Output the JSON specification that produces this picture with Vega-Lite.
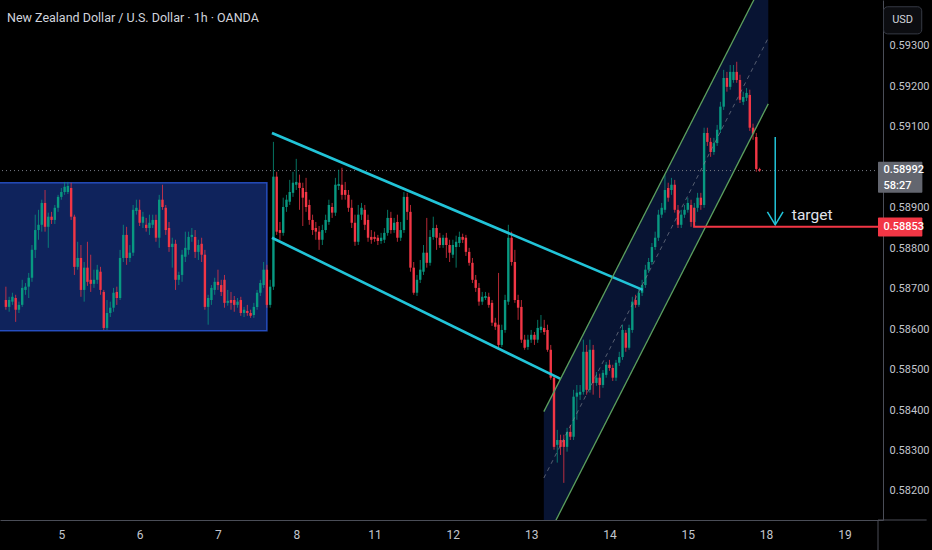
{
"$schema":"https://vega.github.io/schema/vega-lite/v6.json",
"width":883,"height":520,"autosize":"none",
"padding":{"left":0,"top":0,"right":49,"bottom":30},
"background":"#000000",
"title":{"text":"New Zealand Dollar / U.S. Dollar · 1h · OANDA","anchor":"start","frame":"group","offset":-30,"dx":7,"baseline":"middle","color":"#d1d4dc","fontSize":12.5,"fontWeight":"normal","font":"Roboto"},
"config":{"view":{"stroke":null},"axis":{"grid":false,"ticks":false,"domainColor":"#4a4d57","labelColor":"#c3c6ce","labelFont":"Roboto","labelFontSize":11}},
"datasets":{
"candles":[
{"h":-17,"o":0.58672,"c":0.58655,"hi":0.58705,"lo":0.58648},
{"h":-16,"o":0.58655,"c":0.58672,"hi":0.58680,"lo":0.58643},
{"h":-15,"o":0.58668,"c":0.58680,"hi":0.58690,"lo":0.58660},
{"h":-14,"o":0.58677,"c":0.58648,"hi":0.58685,"lo":0.58618},
{"h":-13,"o":0.58648,"c":0.58660,"hi":0.58668,"lo":0.58640},
{"h":-12,"o":0.58660,"c":0.58702,"hi":0.58722,"lo":0.58655},
{"h":-11,"o":0.58697,"c":0.58705,"hi":0.58714,"lo":0.58685},
{"h":-10,"o":0.58705,"c":0.58727,"hi":0.58739,"lo":0.58677},
{"h":-9,"o":0.58727,"c":0.58796,"hi":0.58808,"lo":0.58717},
{"h":-8,"o":0.58796,"c":0.58845,"hi":0.58883,"lo":0.58776},
{"h":-7,"o":0.58845,"c":0.58858,"hi":0.58895,"lo":0.58821},
{"h":-6,"o":0.58858,"c":0.58912,"hi":0.58920,"lo":0.58841},
{"h":-5,"o":0.58912,"c":0.58853,"hi":0.58944,"lo":0.58841},
{"h":-4,"o":0.58853,"c":0.58878,"hi":0.58888,"lo":0.58801},
{"h":-3,"o":0.58878,"c":0.58870,"hi":0.58890,"lo":0.58860},
{"h":-2,"o":0.58870,"c":0.58900,"hi":0.58907,"lo":0.58860},
{"h":-1,"o":0.58900,"c":0.58927,"hi":0.58932,"lo":0.58890},
{"h":0,"o":0.58927,"c":0.58939,"hi":0.58949,"lo":0.58920},
{"h":1,"o":0.58939,"c":0.58952,"hi":0.58964,"lo":0.58932},
{"h":2,"o":0.58939,"c":0.58954,"hi":0.58964,"lo":0.58934},
{"h":3,"o":0.58949,"c":0.58878,"hi":0.58962,"lo":0.58870},
{"h":4,"o":0.58878,"c":0.58754,"hi":0.58883,"lo":0.58734},
{"h":5,"o":0.58754,"c":0.58776,"hi":0.58816,"lo":0.58747},
{"h":6,"o":0.58776,"c":0.58697,"hi":0.58808,"lo":0.58680},
{"h":7,"o":0.58697,"c":0.58752,"hi":0.58766,"lo":0.58668},
{"h":8,"o":0.58752,"c":0.58717,"hi":0.58816,"lo":0.58707},
{"h":9,"o":0.58722,"c":0.58712,"hi":0.58784,"lo":0.58692},
{"h":10,"o":0.58712,"c":0.58722,"hi":0.58747,"lo":0.58702},
{"h":11,"o":0.58722,"c":0.58747,"hi":0.58759,"lo":0.58712},
{"h":12,"o":0.58742,"c":0.58697,"hi":0.58754,"lo":0.58685},
{"h":13,"o":0.58692,"c":0.58603,"hi":0.58697,"lo":0.58598},
{"h":14,"o":0.58603,"c":0.58640,"hi":0.58672,"lo":0.58598},
{"h":15,"o":0.58640,"c":0.58653,"hi":0.58668,"lo":0.58630},
{"h":16,"o":0.58653,"c":0.58690,"hi":0.58702,"lo":0.58643},
{"h":17,"o":0.58692,"c":0.58677,"hi":0.58705,"lo":0.58660},
{"h":18,"o":0.58677,"c":0.58776,"hi":0.58796,"lo":0.58672},
{"h":19,"o":0.58776,"c":0.58833,"hi":0.58858,"lo":0.58766},
{"h":20,"o":0.58833,"c":0.58776,"hi":0.58853,"lo":0.58759},
{"h":21,"o":0.58776,"c":0.58789,"hi":0.58808,"lo":0.58766},
{"h":22,"o":0.58789,"c":0.58895,"hi":0.58907,"lo":0.58781},
{"h":23,"o":0.58892,"c":0.58900,"hi":0.58920,"lo":0.58883},
{"h":24,"o":0.58895,"c":0.58863,"hi":0.58920,"lo":0.58855},
{"h":25,"o":0.58863,"c":0.58878,"hi":0.58890,"lo":0.58850},
{"h":26,"o":0.58858,"c":0.58850,"hi":0.58875,"lo":0.58841},
{"h":27,"o":0.58850,"c":0.58863,"hi":0.58883,"lo":0.58833},
{"h":28,"o":0.58858,"c":0.58870,"hi":0.58883,"lo":0.58850},
{"h":29,"o":0.58870,"c":0.58826,"hi":0.58883,"lo":0.58816},
{"h":30,"o":0.58826,"c":0.58920,"hi":0.58932,"lo":0.58801},
{"h":31,"o":0.58920,"c":0.58902,"hi":0.58957,"lo":0.58895},
{"h":32,"o":0.58900,"c":0.58845,"hi":0.58907,"lo":0.58833},
{"h":33,"o":0.58850,"c":0.58803,"hi":0.58865,"lo":0.58791},
{"h":34,"o":0.58803,"c":0.58811,"hi":0.58826,"lo":0.58752},
{"h":35,"o":0.58811,"c":0.58722,"hi":0.58821,"lo":0.58697},
{"h":36,"o":0.58722,"c":0.58734,"hi":0.58742,"lo":0.58709},
{"h":37,"o":0.58734,"c":0.58784,"hi":0.58796,"lo":0.58717},
{"h":38,"o":0.58779,"c":0.58801,"hi":0.58841,"lo":0.58766},
{"h":39,"o":0.58796,"c":0.58828,"hi":0.58841,"lo":0.58784},
{"h":40,"o":0.58828,"c":0.58833,"hi":0.58850,"lo":0.58816},
{"h":41,"o":0.58828,"c":0.58791,"hi":0.58845,"lo":0.58776},
{"h":42,"o":0.58791,"c":0.58808,"hi":0.58821,"lo":0.58771},
{"h":43,"o":0.58811,"c":0.58784,"hi":0.58826,"lo":0.58766},
{"h":44,"o":0.58784,"c":0.58655,"hi":0.58796,"lo":0.58648},
{"h":45,"o":0.58655,"c":0.58677,"hi":0.58685,"lo":0.58611},
{"h":46,"o":0.58672,"c":0.58702,"hi":0.58709,"lo":0.58660},
{"h":47,"o":0.58697,"c":0.58717,"hi":0.58727,"lo":0.58685},
{"h":48,"o":0.58717,"c":0.58709,"hi":0.58747,"lo":0.58697},
{"h":49,"o":0.58709,"c":0.58692,"hi":0.58722,"lo":0.58682},
{"h":50,"o":0.58722,"c":0.58665,"hi":0.58734,"lo":0.58653},
{"h":51,"o":0.58665,"c":0.58670,"hi":0.58697,"lo":0.58658},
{"h":52,"o":0.58672,"c":0.58665,"hi":0.58692,"lo":0.58648},
{"h":53,"o":0.58672,"c":0.58660,"hi":0.58682,"lo":0.58643},
{"h":54,"o":0.58660,"c":0.58668,"hi":0.58677,"lo":0.58653},
{"h":55,"o":0.58672,"c":0.58640,"hi":0.58680,"lo":0.58633},
{"h":56,"o":0.58640,"c":0.58648,"hi":0.58655,"lo":0.58630},
{"h":57,"o":0.58645,"c":0.58640,"hi":0.58660,"lo":0.58633},
{"h":58,"o":0.58640,"c":0.58633,"hi":0.58648,"lo":0.58628},
{"h":59,"o":0.58635,"c":0.58655,"hi":0.58665,"lo":0.58628},
{"h":60,"o":0.58655,"c":0.58690,"hi":0.58697,"lo":0.58648},
{"h":61,"o":0.58690,"c":0.58714,"hi":0.58722,"lo":0.58682},
{"h":62,"o":0.58709,"c":0.58747,"hi":0.58766,"lo":0.58702},
{"h":63,"o":0.58747,"c":0.58660,"hi":0.58759,"lo":0.58653},
{"h":64,"o":0.58660,"c":0.58705,"hi":0.58722,"lo":0.58653},
{"h":65,"o":0.58705,"c":0.58977,"hi":0.59063,"lo":0.58697},
{"h":66,"o":0.58977,"c":0.58841,"hi":0.58989,"lo":0.58833},
{"h":67,"o":0.58845,"c":0.58838,"hi":0.58865,"lo":0.58821},
{"h":68,"o":0.58838,"c":0.58902,"hi":0.58925,"lo":0.58831},
{"h":69,"o":0.58902,"c":0.58920,"hi":0.58932,"lo":0.58890},
{"h":70,"o":0.58915,"c":0.58939,"hi":0.58969,"lo":0.58907},
{"h":71,"o":0.58937,"c":0.58962,"hi":0.58989,"lo":0.58927},
{"h":72,"o":0.58957,"c":0.58964,"hi":0.59021,"lo":0.58944},
{"h":73,"o":0.58962,"c":0.58949,"hi":0.58982,"lo":0.58895},
{"h":74,"o":0.58949,"c":0.58925,"hi":0.58962,"lo":0.58855},
{"h":75,"o":0.58939,"c":0.58902,"hi":0.58974,"lo":0.58890},
{"h":76,"o":0.58907,"c":0.58870,"hi":0.58920,"lo":0.58858},
{"h":77,"o":0.58870,"c":0.58845,"hi":0.58883,"lo":0.58833},
{"h":78,"o":0.58850,"c":0.58841,"hi":0.58865,"lo":0.58821},
{"h":79,"o":0.58841,"c":0.58821,"hi":0.58855,"lo":0.58796},
{"h":80,"o":0.58821,"c":0.58845,"hi":0.58858,"lo":0.58808},
{"h":81,"o":0.58845,"c":0.58870,"hi":0.58883,"lo":0.58838},
{"h":82,"o":0.58865,"c":0.58907,"hi":0.58920,"lo":0.58858},
{"h":83,"o":0.58902,"c":0.58888,"hi":0.58912,"lo":0.58875},
{"h":84,"o":0.58888,"c":0.58957,"hi":0.58974,"lo":0.58880},
{"h":85,"o":0.58954,"c":0.58959,"hi":0.58994,"lo":0.58944},
{"h":86,"o":0.58957,"c":0.58932,"hi":0.58999,"lo":0.58920},
{"h":87,"o":0.58944,"c":0.58932,"hi":0.58964,"lo":0.58920},
{"h":88,"o":0.58932,"c":0.58900,"hi":0.58944,"lo":0.58890},
{"h":89,"o":0.58900,"c":0.58863,"hi":0.58920,"lo":0.58850},
{"h":90,"o":0.58863,"c":0.58816,"hi":0.58883,"lo":0.58806},
{"h":91,"o":0.58816,"c":0.58883,"hi":0.58907,"lo":0.58808},
{"h":92,"o":0.58883,"c":0.58900,"hi":0.58912,"lo":0.58870},
{"h":93,"o":0.58895,"c":0.58858,"hi":0.58907,"lo":0.58845},
{"h":94,"o":0.58870,"c":0.58826,"hi":0.58883,"lo":0.58816},
{"h":95,"o":0.58828,"c":0.58821,"hi":0.58845,"lo":0.58811},
{"h":96,"o":0.58828,"c":0.58823,"hi":0.58841,"lo":0.58816},
{"h":97,"o":0.58826,"c":0.58818,"hi":0.58833,"lo":0.58808},
{"h":98,"o":0.58818,"c":0.58826,"hi":0.58838,"lo":0.58811},
{"h":99,"o":0.58821,"c":0.58838,"hi":0.58850,"lo":0.58813},
{"h":100,"o":0.58838,"c":0.58875,"hi":0.58895,"lo":0.58831},
{"h":101,"o":0.58875,"c":0.58845,"hi":0.58890,"lo":0.58836},
{"h":102,"o":0.58845,"c":0.58863,"hi":0.58875,"lo":0.58838},
{"h":103,"o":0.58865,"c":0.58826,"hi":0.58883,"lo":0.58816},
{"h":104,"o":0.58826,"c":0.58845,"hi":0.58865,"lo":0.58818},
{"h":105,"o":0.58845,"c":0.58927,"hi":0.58939,"lo":0.58838},
{"h":106,"o":0.58927,"c":0.58890,"hi":0.58937,"lo":0.58870},
{"h":107,"o":0.58890,"c":0.58752,"hi":0.58907,"lo":0.58742},
{"h":108,"o":0.58752,"c":0.58690,"hi":0.58766,"lo":0.58685},
{"h":109,"o":0.58690,"c":0.58722,"hi":0.58734,"lo":0.58682},
{"h":110,"o":0.58722,"c":0.58747,"hi":0.58771,"lo":0.58714},
{"h":111,"o":0.58742,"c":0.58789,"hi":0.58808,"lo":0.58734},
{"h":112,"o":0.58789,"c":0.58764,"hi":0.58875,"lo":0.58752},
{"h":113,"o":0.58764,"c":0.58828,"hi":0.58845,"lo":0.58757},
{"h":114,"o":0.58828,"c":0.58850,"hi":0.58878,"lo":0.58821},
{"h":115,"o":0.58850,"c":0.58826,"hi":0.58858,"lo":0.58796},
{"h":116,"o":0.58826,"c":0.58808,"hi":0.58838,"lo":0.58801},
{"h":117,"o":0.58808,"c":0.58826,"hi":0.58833,"lo":0.58801},
{"h":118,"o":0.58826,"c":0.58808,"hi":0.58838,"lo":0.58776},
{"h":119,"o":0.58808,"c":0.58789,"hi":0.58821,"lo":0.58766},
{"h":120,"o":0.58784,"c":0.58808,"hi":0.58821,"lo":0.58776},
{"h":121,"o":0.58803,"c":0.58816,"hi":0.58831,"lo":0.58752},
{"h":122,"o":0.58813,"c":0.58828,"hi":0.58841,"lo":0.58803},
{"h":123,"o":0.58828,"c":0.58821,"hi":0.58836,"lo":0.58813},
{"h":124,"o":0.58826,"c":0.58791,"hi":0.58833,"lo":0.58781},
{"h":125,"o":0.58791,"c":0.58764,"hi":0.58801,"lo":0.58757},
{"h":126,"o":0.58764,"c":0.58722,"hi":0.58776,"lo":0.58714},
{"h":127,"o":0.58722,"c":0.58702,"hi":0.58734,"lo":0.58692},
{"h":128,"o":0.58702,"c":0.58668,"hi":0.58714,"lo":0.58658},
{"h":129,"o":0.58668,"c":0.58680,"hi":0.58692,"lo":0.58660},
{"h":130,"o":0.58677,"c":0.58682,"hi":0.58692,"lo":0.58672},
{"h":131,"o":0.58680,"c":0.58660,"hi":0.58690,"lo":0.58653},
{"h":132,"o":0.58665,"c":0.58616,"hi":0.58672,"lo":0.58608},
{"h":133,"o":0.58616,"c":0.58606,"hi":0.58628,"lo":0.58598},
{"h":134,"o":0.58611,"c":0.58561,"hi":0.58739,"lo":0.58554},
{"h":135,"o":0.58561,"c":0.58598,"hi":0.58611,"lo":0.58556},
{"h":136,"o":0.58598,"c":0.58672,"hi":0.58685,"lo":0.58591},
{"h":137,"o":0.58668,"c":0.58826,"hi":0.58858,"lo":0.58660},
{"h":138,"o":0.58826,"c":0.58766,"hi":0.58841,"lo":0.58757},
{"h":139,"o":0.58766,"c":0.58672,"hi":0.58796,"lo":0.58665},
{"h":140,"o":0.58672,"c":0.58653,"hi":0.58685,"lo":0.58623},
{"h":141,"o":0.58655,"c":0.58574,"hi":0.58672,"lo":0.58566},
{"h":142,"o":0.58574,"c":0.58554,"hi":0.58586,"lo":0.58549},
{"h":143,"o":0.58556,"c":0.58574,"hi":0.58586,"lo":0.58549},
{"h":144,"o":0.58574,"c":0.58586,"hi":0.58598,"lo":0.58566},
{"h":145,"o":0.58586,"c":0.58574,"hi":0.58593,"lo":0.58561},
{"h":146,"o":0.58574,"c":0.58603,"hi":0.58623,"lo":0.58566},
{"h":147,"o":0.58598,"c":0.58606,"hi":0.58635,"lo":0.58591},
{"h":148,"o":0.58603,"c":0.58593,"hi":0.58623,"lo":0.58586},
{"h":149,"o":0.58598,"c":0.58549,"hi":0.58611,"lo":0.58544},
{"h":150,"o":0.58549,"c":0.58480,"hi":0.58561,"lo":0.58475},
{"h":151,"o":0.58480,"c":0.58309,"hi":0.58487,"lo":0.58302},
{"h":152,"o":0.58314,"c":0.58326,"hi":0.58351,"lo":0.58270},
{"h":153,"o":0.58326,"c":0.58309,"hi":0.58339,"lo":0.58289},
{"h":154,"o":0.58326,"c":0.58309,"hi":0.58339,"lo":0.58220},
{"h":155,"o":0.58309,"c":0.58346,"hi":0.58356,"lo":0.58297},
{"h":156,"o":0.58346,"c":0.58334,"hi":0.58363,"lo":0.58326},
{"h":157,"o":0.58334,"c":0.58433,"hi":0.58450,"lo":0.58326},
{"h":158,"o":0.58433,"c":0.58443,"hi":0.58462,"lo":0.58376},
{"h":159,"o":0.58438,"c":0.58445,"hi":0.58462,"lo":0.58425},
{"h":160,"o":0.58445,"c":0.58544,"hi":0.58574,"lo":0.58438},
{"h":161,"o":0.58544,"c":0.58450,"hi":0.58561,"lo":0.58438},
{"h":162,"o":0.58450,"c":0.58549,"hi":0.58574,"lo":0.58443},
{"h":163,"o":0.58549,"c":0.58467,"hi":0.58561,"lo":0.58438},
{"h":164,"o":0.58467,"c":0.58480,"hi":0.58494,"lo":0.58460},
{"h":165,"o":0.58480,"c":0.58462,"hi":0.58490,"lo":0.58430},
{"h":166,"o":0.58462,"c":0.58492,"hi":0.58499,"lo":0.58455},
{"h":167,"o":0.58487,"c":0.58512,"hi":0.58519,"lo":0.58480},
{"h":168,"o":0.58512,"c":0.58504,"hi":0.58524,"lo":0.58497},
{"h":169,"o":0.58504,"c":0.58480,"hi":0.58512,"lo":0.58472},
{"h":170,"o":0.58480,"c":0.58517,"hi":0.58524,"lo":0.58472},
{"h":171,"o":0.58517,"c":0.58531,"hi":0.58544,"lo":0.58509},
{"h":172,"o":0.58531,"c":0.58598,"hi":0.58611,"lo":0.58524},
{"h":173,"o":0.58591,"c":0.58554,"hi":0.58598,"lo":0.58544},
{"h":174,"o":0.58554,"c":0.58603,"hi":0.58611,"lo":0.58549},
{"h":175,"o":0.58598,"c":0.58668,"hi":0.58680,"lo":0.58591},
{"h":176,"o":0.58672,"c":0.58660,"hi":0.58685,"lo":0.58653},
{"h":177,"o":0.58660,"c":0.58690,"hi":0.58702,"lo":0.58655},
{"h":178,"o":0.58690,"c":0.58709,"hi":0.58722,"lo":0.58682},
{"h":179,"o":0.58709,"c":0.58747,"hi":0.58759,"lo":0.58702},
{"h":180,"o":0.58747,"c":0.58766,"hi":0.58776,"lo":0.58739},
{"h":181,"o":0.58766,"c":0.58803,"hi":0.58813,"lo":0.58759},
{"h":182,"o":0.58803,"c":0.58826,"hi":0.58841,"lo":0.58796},
{"h":183,"o":0.58826,"c":0.58883,"hi":0.58895,"lo":0.58818},
{"h":184,"o":0.58883,"c":0.58900,"hi":0.58912,"lo":0.58875},
{"h":185,"o":0.58895,"c":0.58944,"hi":0.58982,"lo":0.58888},
{"h":186,"o":0.58949,"c":0.58925,"hi":0.58962,"lo":0.58915},
{"h":187,"o":0.58944,"c":0.58957,"hi":0.58974,"lo":0.58932},
{"h":188,"o":0.58957,"c":0.58895,"hi":0.58969,"lo":0.58888},
{"h":189,"o":0.58895,"c":0.58858,"hi":0.58907,"lo":0.58850},
{"h":190,"o":0.58858,"c":0.58883,"hi":0.58895,"lo":0.58850},
{"h":191,"o":0.58883,"c":0.58895,"hi":0.58907,"lo":0.58875},
{"h":192,"o":0.58895,"c":0.58912,"hi":0.58925,"lo":0.58888},
{"h":193,"o":0.58907,"c":0.58865,"hi":0.58920,"lo":0.58853},
{"h":194,"o":0.58865,"c":0.58900,"hi":0.58912,"lo":0.58855},
{"h":195,"o":0.58900,"c":0.58925,"hi":0.58937,"lo":0.58890},
{"h":196,"o":0.58925,"c":0.58907,"hi":0.58937,"lo":0.58895},
{"h":197,"o":0.58907,"c":0.59085,"hi":0.59098,"lo":0.58900},
{"h":198,"o":0.59085,"c":0.59063,"hi":0.59098,"lo":0.59053},
{"h":199,"o":0.59063,"c":0.59038,"hi":0.59073,"lo":0.59026},
{"h":200,"o":0.59038,"c":0.59060,"hi":0.59073,"lo":0.59031},
{"h":201,"o":0.59060,"c":0.59093,"hi":0.59105,"lo":0.59053},
{"h":202,"o":0.59093,"c":0.59150,"hi":0.59162,"lo":0.59085},
{"h":203,"o":0.59150,"c":0.59221,"hi":0.59241,"lo":0.59142},
{"h":204,"o":0.59221,"c":0.59199,"hi":0.59236,"lo":0.59187},
{"h":205,"o":0.59199,"c":0.59236,"hi":0.59253,"lo":0.59192},
{"h":206,"o":0.59216,"c":0.59236,"hi":0.59253,"lo":0.59209},
{"h":207,"o":0.59236,"c":0.59216,"hi":0.59261,"lo":0.59209},
{"h":208,"o":0.59216,"c":0.59167,"hi":0.59229,"lo":0.59159},
{"h":209,"o":0.59162,"c":0.59174,"hi":0.59187,"lo":0.59154},
{"h":210,"o":0.59172,"c":0.59184,"hi":0.59196,"lo":0.59164},
{"h":211,"o":0.59179,"c":0.59098,"hi":0.59192,"lo":0.59090},
{"h":212,"o":0.59098,"c":0.59083,"hi":0.59108,"lo":0.59068},
{"h":213,"o":0.59075,"c":0.58996,"hi":0.59085,"lo":0.58989},
{"h":214,"o":0.58996,"c":0.58992,"hi":0.58999,"lo":0.58989}
],
"draw":[
{"g":"up1","k":0,"h":64.55,"p":0.59085},{"g":"up1","k":1,"h":178.2,"p":0.58697},
{"g":"lo1","k":0,"h":64.55,"p":0.58826},{"g":"lo1","k":1,"h":153.0,"p":0.58477},
{"g":"arrow","k":0,"h":218.8,"p":0.59075},{"g":"arrow","k":1,"h":218.8,"p":0.58858},
{"g":"head","k":0,"h":216.4,"p":0.58890},{"g":"head","k":1,"h":218.8,"p":0.58858},{"g":"head","k":2,"h":221.2,"p":0.58890},
{"g":"tgt","k":0,"h":193.94,"p":0.58900},{"g":"tgt","k":1,"h":193.94,"p":0.58853},{"g":"tgt","k":2,"h":252,"p":0.58853},
{"g":"chU","k":0,"h":147.88,"p":0.58396},{"g":"chU","k":1,"h":216.67,"p":0.59484},
{"g":"chL","k":0,"h":147.88,"p":0.58069},{"g":"chL","k":1,"h":216.67,"p":0.59157},
{"g":"chM","k":0,"h":147.88,"p":0.58232},{"g":"chM","k":1,"h":216.67,"p":0.59320},
{"g":"sep","k":0,"h":250.3,"p":0.5812818},{"g":"sep","k":1,"h":250.3,"p":0.58054},
{"g":"base","k":0,"h":250.3,"p":0.5812818},{"g":"base","k":1,"h":265.2,"p":0.5812818}
],
"chan":[{"h":147.88,"top":0.58396,"bot":0.58069},{"h":216.67,"top":0.59484,"bot":0.59157}],
"box":[{"h1":-20,"h2":63.0,"p1":0.58962,"p2":0.58596}],
"tags":[
{"kind":"usd","h1":252.0,"h2":263.7,"p1":0.59397,"p2":0.59330},
{"kind":"grey","h1":250.3,"h2":263.9,"p1":0.59014,"p2":0.58937},
{"kind":"red","h1":250.3,"h2":263.9,"p1":0.58876,"p2":0.58829}
],
"texts":[
{"kind":"grey1","h":252.0,"p":0.58994,"t":"0.58992"},
{"kind":"grey2","h":252.0,"p":0.58955,"t":"58:27"},
{"kind":"red","h":252.0,"p":0.58853,"t":"0.58853"},
{"kind":"usd","h":257.85,"p":0.59364,"t":"USD"},
{"kind":"target","h":223.9,"p":0.58882,"t":"target"}
],
"last":[{"p":0.58992}]
},
"layer":[
{"data":{"name":"chan"},"mark":{"type":"area","color":"#2962ff","opacity":0.2,"clip":true},
 "encoding":{"x":{"field":"h","type":"quantitative","scale":{"domain":[-17.27,250.3],"nice":false,"zero":false},
   "axis":{"values":[0,24,48,72,96,120,144,168,192,216,240],"labelExpr":"['5','6','7','8','11','12','13','14','15','18','19'][round(datum.value/24)]","labelPadding":9,"labelFontSize":12,"title":null}},
  "y":{"field":"top","type":"quantitative","scale":{"domain":[0.5812818,0.5941372],"nice":false,"zero":false},
   "axis":{"orient":"right","values":[0.582,0.583,0.584,0.585,0.586,0.587,0.588,0.589,0.591,0.592,0.593],"format":".5f","labelPadding":6,"title":null}},
  "y2":{"field":"bot"}}},
{"data":{"name":"box"},"mark":{"type":"rect","fill":"#2962ff","fillOpacity":0.36,"stroke":"#2f5fe8","strokeOpacity":0.75,"strokeWidth":1.5,"clip":true},
 "encoding":{"x":{"field":"h1","type":"quantitative","scale":{"domain":[-17.27,250.3],"nice":false,"zero":false}},"x2":{"field":"h2"},
  "y":{"field":"p1","type":"quantitative","scale":{"domain":[0.5812818,0.5941372],"nice":false,"zero":false}},"y2":{"field":"p2"}}},
{"data":{"name":"last"},"mark":{"type":"rule","color":"#787b86","strokeWidth":1,"strokeDash":[1,3]},
 "encoding":{"y":{"field":"p","type":"quantitative","scale":{"domain":[0.5812818,0.5941372],"nice":false,"zero":false}}}},
{"data":{"name":"candles"},"mark":{"type":"rule","strokeWidth":1,"opacity":0.75},
 "encoding":{"x":{"field":"h","type":"quantitative","scale":{"domain":[-17.27,250.3],"nice":false,"zero":false}},
  "y":{"field":"lo","type":"quantitative","scale":{"domain":[0.5812818,0.5941372],"nice":false,"zero":false}},"y2":{"field":"hi"},
  "color":{"condition":{"test":"datum.c >= datum.o","value":"#089981"},"value":"#f23645"}}},
{"data":{"name":"candles"},"mark":{"type":"bar","size":2.4},
 "encoding":{"x":{"field":"h","type":"quantitative","scale":{"domain":[-17.27,250.3],"nice":false,"zero":false}},
  "y":{"field":"o","type":"quantitative","scale":{"domain":[0.5812818,0.5941372],"nice":false,"zero":false}},"y2":{"field":"c"},
  "color":{"condition":{"test":"datum.c >= datum.o","value":"#089981"},"value":"#f23645"}}},
{"data":{"name":"draw"},"transform":[{"filter":"datum.g == 'up1' || datum.g == 'lo1'"}],"mark":{"type":"line","color":"#22c4d8","strokeWidth":2.6,"clip":true},
 "encoding":{"x":{"field":"h","type":"quantitative","scale":{"domain":[-17.27,250.3],"nice":false,"zero":false}},
  "y":{"field":"p","type":"quantitative","scale":{"domain":[0.5812818,0.5941372],"nice":false,"zero":false}},"detail":{"field":"g"},"order":{"field":"k"}}},
{"data":{"name":"draw"},"transform":[{"filter":"datum.g == 'chU' || datum.g == 'chL'"}],"mark":{"type":"line","color":"#5b9f5e","strokeWidth":1.3,"clip":true},
 "encoding":{"x":{"field":"h","type":"quantitative","scale":{"domain":[-17.27,250.3],"nice":false,"zero":false}},
  "y":{"field":"p","type":"quantitative","scale":{"domain":[0.5812818,0.5941372],"nice":false,"zero":false}},"detail":{"field":"g"},"order":{"field":"k"}}},
{"data":{"name":"draw"},"transform":[{"filter":"datum.g == 'chM'"}],"mark":{"type":"line","color":"#8a8f9a","opacity":0.6,"strokeWidth":1,"strokeDash":[4,4],"clip":true},
 "encoding":{"x":{"field":"h","type":"quantitative","scale":{"domain":[-17.27,250.3],"nice":false,"zero":false}},
  "y":{"field":"p","type":"quantitative","scale":{"domain":[0.5812818,0.5941372],"nice":false,"zero":false}},"order":{"field":"k"}}},
{"data":{"name":"draw"},"transform":[{"filter":"datum.g == 'arrow' || datum.g == 'head'"}],"mark":{"type":"line","color":"#22c4d8","strokeWidth":1.5,"clip":true},
 "encoding":{"x":{"field":"h","type":"quantitative","scale":{"domain":[-17.27,250.3],"nice":false,"zero":false}},
  "y":{"field":"p","type":"quantitative","scale":{"domain":[0.5812818,0.5941372],"nice":false,"zero":false}},"detail":{"field":"g"},"order":{"field":"k"}}},
{"data":{"name":"draw"},"transform":[{"filter":"datum.g == 'tgt'"}],"mark":{"type":"line","color":"#f23645","strokeWidth":2,"clip":true},
 "encoding":{"x":{"field":"h","type":"quantitative","scale":{"domain":[-17.27,250.3],"nice":false,"zero":false}},
  "y":{"field":"p","type":"quantitative","scale":{"domain":[0.5812818,0.5941372],"nice":false,"zero":false}},"order":{"field":"k"}}},
{"data":{"name":"draw"},"transform":[{"filter":"datum.g == 'sep' || datum.g == 'base'"}],"mark":{"type":"line","color":"#4a4d57","strokeWidth":1},
 "encoding":{"x":{"field":"h","type":"quantitative","scale":{"domain":[-17.27,250.3],"nice":false,"zero":false}},
  "y":{"field":"p","type":"quantitative","scale":{"domain":[0.5812818,0.5941372],"nice":false,"zero":false}},"detail":{"field":"g"},"order":{"field":"k"}}},
{"data":{"name":"tags"},"transform":[{"filter":"datum.kind == 'usd'"}],"mark":{"type":"rect","fill":"#0c0d11","stroke":"#363a45","strokeWidth":1,"cornerRadius":4},
 "encoding":{"x":{"field":"h1","type":"quantitative","scale":{"domain":[-17.27,250.3],"nice":false,"zero":false}},"x2":{"field":"h2"},
  "y":{"field":"p1","type":"quantitative","scale":{"domain":[0.5812818,0.5941372],"nice":false,"zero":false}},"y2":{"field":"p2"}}},
{"data":{"name":"tags"},"transform":[{"filter":"datum.kind == 'grey'"}],"mark":{"type":"rect","fill":"#63666f","cornerRadius":1},
 "encoding":{"x":{"field":"h1","type":"quantitative","scale":{"domain":[-17.27,250.3],"nice":false,"zero":false}},"x2":{"field":"h2"},
  "y":{"field":"p1","type":"quantitative","scale":{"domain":[0.5812818,0.5941372],"nice":false,"zero":false}},"y2":{"field":"p2"}}},
{"data":{"name":"tags"},"transform":[{"filter":"datum.kind == 'red'"}],"mark":{"type":"rect","fill":"#f23645","cornerRadius":1},
 "encoding":{"x":{"field":"h1","type":"quantitative","scale":{"domain":[-17.27,250.3],"nice":false,"zero":false}},"x2":{"field":"h2"},
  "y":{"field":"p1","type":"quantitative","scale":{"domain":[0.5812818,0.5941372],"nice":false,"zero":false}},"y2":{"field":"p2"}}},
{"data":{"name":"texts"},"transform":[{"filter":"datum.kind != 'target' && datum.kind != 'usd'"}],"mark":{"type":"text","align":"left","baseline":"middle","color":"#ffffff","fontSize":11,"fontWeight":500,"font":"Roboto"},
 "encoding":{"x":{"field":"h","type":"quantitative","scale":{"domain":[-17.27,250.3],"nice":false,"zero":false}},
  "y":{"field":"p","type":"quantitative","scale":{"domain":[0.5812818,0.5941372],"nice":false,"zero":false}},"text":{"field":"t"}}},
{"data":{"name":"texts"},"transform":[{"filter":"datum.kind == 'usd'"}],"mark":{"type":"text","align":"center","baseline":"middle","color":"#d1d4dc","fontSize":11,"font":"Roboto"},
 "encoding":{"x":{"field":"h","type":"quantitative","scale":{"domain":[-17.27,250.3],"nice":false,"zero":false}},
  "y":{"field":"p","type":"quantitative","scale":{"domain":[0.5812818,0.5941372],"nice":false,"zero":false}},"text":{"field":"t"}}},
{"data":{"name":"texts"},"transform":[{"filter":"datum.kind == 'target'"}],"mark":{"type":"text","align":"left","baseline":"middle","color":"#e0e3eb","fontSize":15.5,"font":"Roboto"},
 "encoding":{"x":{"field":"h","type":"quantitative","scale":{"domain":[-17.27,250.3],"nice":false,"zero":false}},
  "y":{"field":"p","type":"quantitative","scale":{"domain":[0.5812818,0.5941372],"nice":false,"zero":false}},"text":{"field":"t"}}}
]
}
